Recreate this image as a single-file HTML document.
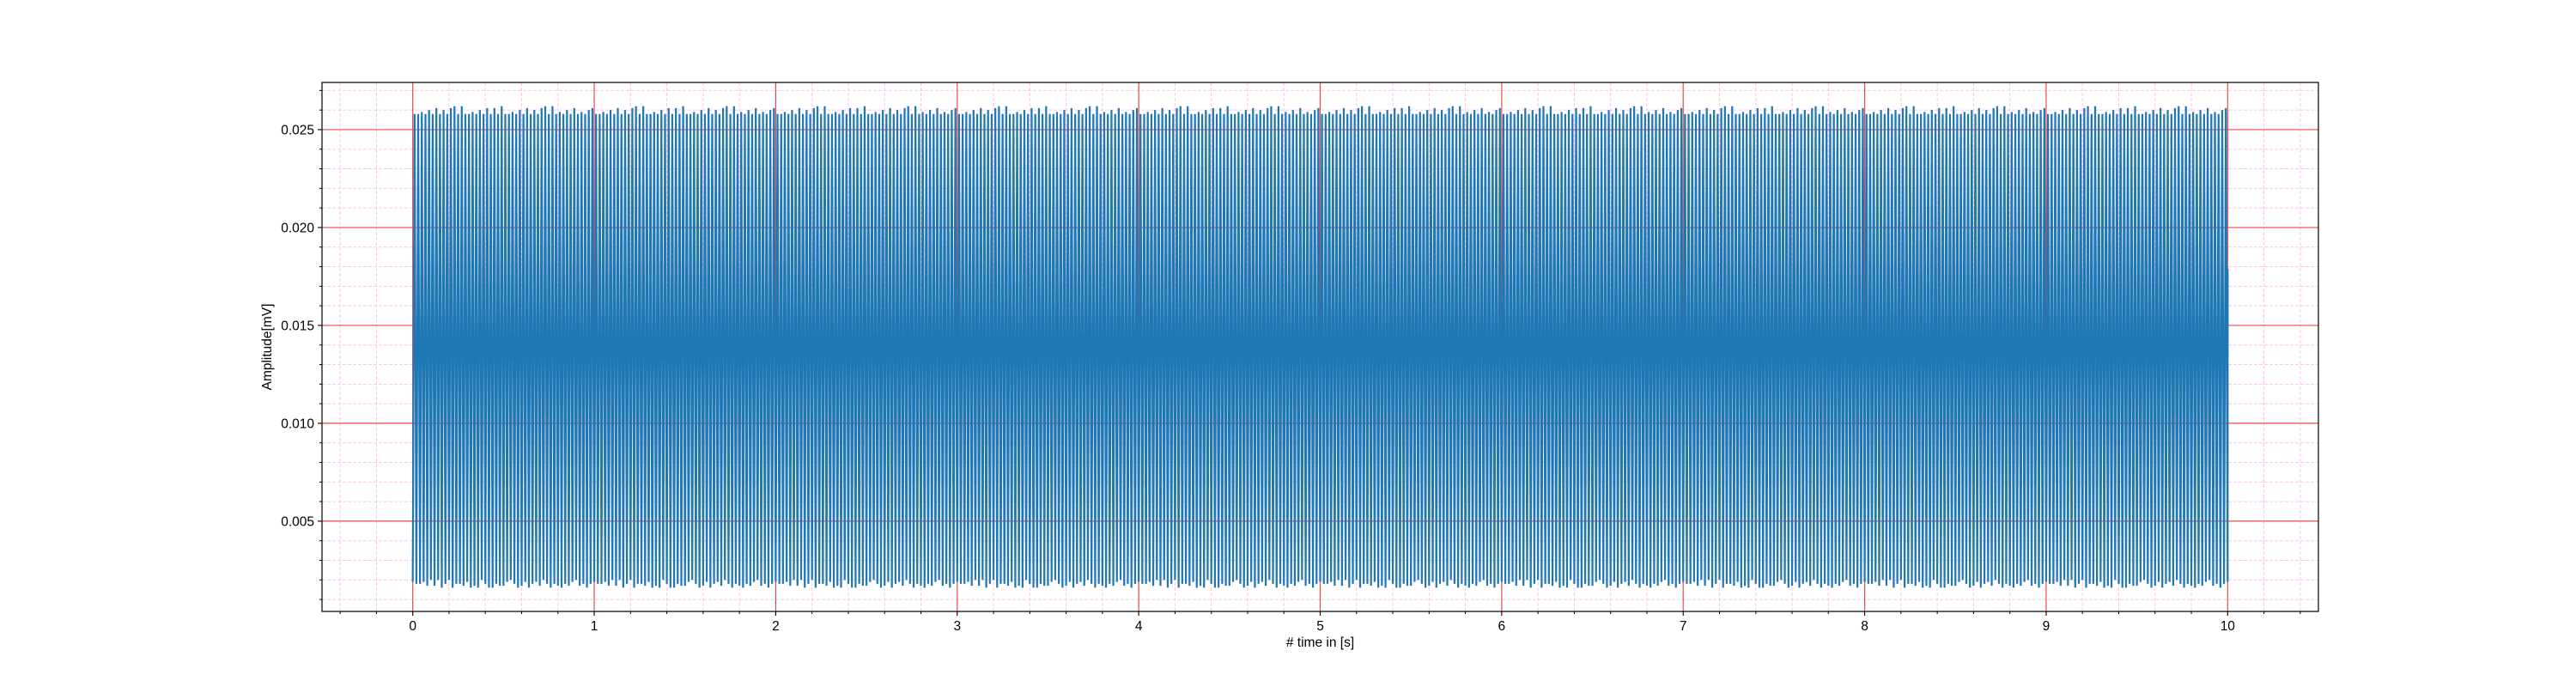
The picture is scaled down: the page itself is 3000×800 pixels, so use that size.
<!DOCTYPE html>
<html><head><meta charset="utf-8"><style>
html,body{margin:0;padding:0;background:#fff;}
svg{display:block;font-family:"Liberation Sans","DejaVu Sans",sans-serif;}
</style></head><body>
<svg id="chart" width="3000" height="800" viewBox="0 0 3000 800" xmlns="http://www.w3.org/2000/svg">
<rect x="0" y="0" width="3000" height="800" fill="#fff"/>
<g id="grid"></g>
<g id="series"></g>
<g id="axes"></g>
</svg>
<script>
const xTicks = [0,1,2,3,4,5,6,7,8,9,10];
const xTickLabels = ["0","1","2","3","4","5","6","7","8","9","10"];
const yTicks = [0.005,0.010,0.015,0.020,0.025];
const yTickLabels = ["0.005","0.010","0.015","0.020","0.025"];
const peakValues = [0.0258,0.0258,0.0259,0.0258,0.0260,0.0258,0.0261,0.0258,0.0260,0.0258,0.0261,0.0262,0.0258,0.0262,0.0258,0.0258,0.0259,0.0258,0.0260,0.0258,0.0261,0.0258,0.0261,0.0258,0.0262,0.0258,0.0258,0.0259,0.0258,0.0260,0.0258,0.0261,0.0258,0.0260,0.0258,0.0261,0.0262,0.0258,0.0262,0.0258,0.0259,0.0258,0.0260,0.0258,0.0261,0.0258,0.0259,0.0258,0.0260,0.0261];
const troughValues = [0.0019,0.0018,0.0018,0.0019,0.0017,0.0020,0.0017,0.0020,0.0016,0.0018,0.0020,0.0016,0.0018,0.0018,0.0017,0.0019,0.0016,0.0017,0.0016,0.0020,0.0018,0.0016,0.0016,0.0018,0.0017,0.0017,0.0019,0.0020,0.0018,0.0016,0.0017,0.0019,0.0016,0.0018,0.0019,0.0017,0.0020,0.0018,0.0016,0.0018,0.0017,0.0016,0.0018,0.0017,0.0019,0.0020,0.0017,0.0018,0.0016,0.0018];
const cyclesPerSecond = 50;
const duration = 10;
const endValue = 0.0179;

const L=375,R=2700,T=96,B=712;
const xMin=-0.5,xMax=10.5,yMin=0.00039,yMax=0.02741;
const xs=v=>L+(v-xMin)/(xMax-xMin)*(R-L);
const ys=v=>B-(v-yMin)/(yMax-yMin)*(B-T);
const NS="http://www.w3.org/2000/svg";
function mk(tag,attrs,parent){const e=document.createElementNS(NS,tag);for(const k in attrs)e.setAttribute(k,attrs[k]);parent.appendChild(e);return e;}
const grid=document.getElementById('grid'),series=document.getElementById('series'),axes=document.getElementById('axes');

for(let i=-2;i<=52;i++){const v=i*0.2;if(Math.abs(v-Math.round(v))<1e-9)continue;const x=xs(v);if(x<L||x>R)continue;
 const l=mk('line',{x1:x,x2:x,y1:T,y2:B,stroke:'#ffc4f0','stroke-width':1,'stroke-dasharray':'4,2'},grid);
 
 const t=mk('line',{x1:x,x2:x,y1:B,y2:B+3,stroke:'#000','stroke-width':1},axes);
 }
for(let i=1;i<=27;i++){const v=i*0.001;if(i%5===0)continue;const y=ys(v);if(y<T||y>B)continue;
 const l=mk('line',{x1:L,x2:R,y1:y,y2:y,stroke:'#ffc4f0','stroke-width':1,'stroke-dasharray':'4,2'},grid);
 
 const t=mk('line',{x1:L-3,x2:L,y1:y,y2:y,stroke:'#000','stroke-width':1},axes);
 }
xTicks.forEach((v,i)=>{const x=xs(v);
 const l=mk('line',{x1:x,x2:x,y1:T,y2:B,stroke:'#f04848','stroke-width':1.2},grid);
 
 const t=mk('line',{x1:x,x2:x,y1:B,y2:B+5,stroke:'#000','stroke-width':1.1},axes);
 
 const tx=mk('text',{x:x,y:B+22,'text-anchor':'middle','font-size':15.5,fill:'#000'},axes);tx.textContent=xTickLabels[i];
 });
yTicks.forEach((v,i)=>{const y=ys(v);
 const l=mk('line',{x1:L,x2:R,y1:y,y2:y,stroke:'#f04848','stroke-width':1.2},grid);
 
 const t=mk('line',{x1:L-5,x2:L,y1:y,y2:y,stroke:'#000','stroke-width':1.1},axes);
 
 const tx=mk('text',{x:L-9,y:y+5.5,'text-anchor':'end','font-size':15.5,fill:'#000'},axes);tx.textContent=yTickLabels[i];
 });

const n=cyclesPerSecond*duration;let pts=[];
for(let k=0;k<n;k++){const t0=k/cyclesPerSecond;
 pts.push(xs(t0).toFixed(2)+','+ys(troughValues[k%troughValues.length]).toFixed(2));
 pts.push(xs(t0+0.5/cyclesPerSecond).toFixed(2)+','+ys(peakValues[k%peakValues.length]).toFixed(2));}
pts.push(xs(duration).toFixed(2)+','+ys(troughValues[n%troughValues.length]).toFixed(2));
pts.push(xs(duration).toFixed(2)+','+ys(endValue).toFixed(2));
const pl=mk('polyline',{points:pts.join(' '),fill:'none',stroke:'#1f77b4','stroke-width':2.2,'stroke-linejoin':'miter','stroke-miterlimit':1},series);


const fr=mk('rect',{x:L,y:T,width:R-L,height:B-T,fill:'none',stroke:'#000','stroke-width':1.2},axes);

const xl=mk('text',{x:(L+R)/2,y:753,'text-anchor':'middle','font-size':15.5,fill:'#000'},axes);xl.textContent='# time in [s]';

const yl=mk('text',{x:0,y:0,'text-anchor':'middle','font-size':15.5,fill:'#000',transform:'translate(316,'+((T+B)/2)+') rotate(-90)'},axes);yl.textContent='Amplitude[mV]';

</script>
</body></html>
